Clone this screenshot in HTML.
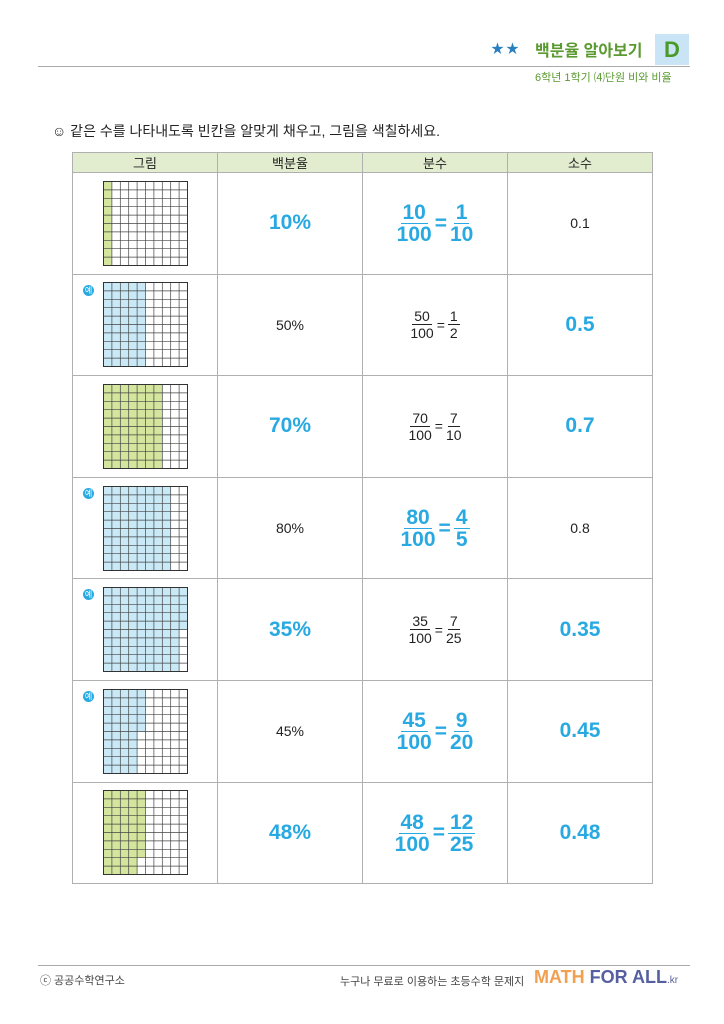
<!DOCTYPE html>
<html><head><meta charset="utf-8">
<style>
body{margin:0;width:724px;height:1024px;background:#fff;font-family:"Liberation Sans","Noto Sans CJK KR",sans-serif;position:relative;overflow:hidden}
.abs{position:absolute}
table{position:absolute;left:72px;top:152px;border-collapse:collapse}
td,th{border:1px solid #b0b0b0;padding:0;text-align:center;vertical-align:middle;position:relative}
th{background:#e2edcf;height:19px;font-weight:normal;font-size:13px;color:#222}
td{height:100.6px;width:144px}
.b{color:#29a9e1;font-weight:bold;font-size:21px}
.n{color:#222;font-size:14px}
.fr{display:inline-flex;align-items:center}
.f{display:inline-flex;flex-direction:column;align-items:center}
.f span:first-child{border-bottom:1.5px solid currentColor;padding:0 2px}
.b .f span{line-height:21px}
.n .f span{line-height:16px}
.n .f span:first-child{border-bottom-width:1px}
.eq{margin:0 3px}
.ye{position:absolute;left:10px;top:10px;width:11px;height:11px;border-radius:50%;background:#29a9e1;color:#fff;font-size:8px;line-height:11px;text-align:center}
svg{display:block;margin:0 auto 0 30px}
</style></head><body>
<div class="abs" style="left:491px;top:38px;color:#2a7fbf;font-size:13px;letter-spacing:2px">★★</div>
<div class="abs" style="left:535px;top:37px;color:#5a9a30;font-size:16px;font-weight:bold">백분율 알아보기</div>
<div class="abs" style="left:655px;top:34px;width:34px;height:31px;background:#c9e4f5;color:#4a9a2a;font-weight:bold;font-size:22px;text-align:center;line-height:31px">D</div>
<div class="abs" style="left:38px;top:66px;width:652px;height:1px;background:#aaa"></div>
<div class="abs" style="left:535px;top:69px;color:#5a9a30;font-size:11px">6학년 1학기 ⑷단원 비와 비율</div>
<div class="abs" style="left:52px;top:121px;font-size:14px;color:#222">☺ 같은 수를 나타내도록 빈칸을 알맞게 채우고, 그림을 색칠하세요.</div>
<table id="t">
<tr><th style="width:144px">그림</th><th style="width:144px">백분율</th><th style="width:144px">분수</th><th style="width:144px">소수</th></tr>
</table>
<div class="abs" style="left:38px;top:965px;width:652px;height:1px;background:#aaa"></div>
<div class="abs" style="left:40px;top:972px;font-size:11px;color:#444">ⓒ 공공수학연구소</div>
<div class="abs" style="left:340px;top:973px;font-size:11px;color:#444">누구나 무료로 이용하는 초등수학 문제지</div>
<div class="abs" style="left:534px;top:967px;font-size:18px;font-weight:bold;color:#f0a050">MATH <span style="color:#5560a0">FOR ALL</span><span style="color:#5560a0;font-size:10px;font-weight:normal">.kr</span></div>
<script>
const G='#d4e59d',B='#c9e9f7';
const rows=[
[10,'0',G,0,['b','10%'],['b','10','100','1','10'],['n','0.1']],
[50,'0',B,1,['n','50%'],['n','50','100','1','2'],['b','0.5']],
[70,'0',G,0,['b','70%'],['n','70','100','7','10'],['b','0.7']],
[80,'0',B,1,['n','80%'],['b','80','100','4','5'],['n','0.8']],
[95,'0',B,1,['b','35%'],['n','35','100','7','25'],['b','0.35']],
[45,'0',B,1,['n','45%'],['b','45','100','9','20'],['b','0.45']],
[48,'0',G,0,['b','48%'],['b','48','100','12','25'],['b','0.48']]];
let h='';
for(const r of rows){
 let s='<svg width="85" height="85" viewBox="0 0 85 85">';
 for(let i=0;i<r[0];i++){const c=Math.floor(i/10),rw=i%10;s+=`<rect x="${0.5+c*8.4}" y="${0.5+rw*8.4}" width="8.4" height="8.4" fill="${r[2]}"/>`}
 for(let k=1;k<10;k++){s+=`<line x1="${0.5+k*8.4}" y1="0" x2="${0.5+k*8.4}" y2="85" stroke="#444" stroke-width="0.7"/><line y1="${0.5+k*8.4}" x1="0" y2="${0.5+k*8.4}" x2="85" stroke="#444" stroke-width="0.7"/>`}
 s+='<rect x="0.5" y="0.5" width="84" height="84" fill="none" stroke="#333" stroke-width="1"/></svg>';
 const f=r[5];
 h+=`<tr><td>${r[3]?'<div class="ye">예</div>':''}${s}</td><td class="${r[4][0]}">${r[4][1]}</td><td class="${f[0]}"><span class="fr"><span class="f"><span>${f[1]}</span><span>${f[2]}</span></span><span class="eq">=</span><span class="f"><span>${f[3]}</span><span>${f[4]}</span></span></span></td><td class="${r[6][0]}">${r[6][1]}</td></tr>`;
}
document.getElementById('t').insertAdjacentHTML('beforeend',h);
</script>
</body></html>
